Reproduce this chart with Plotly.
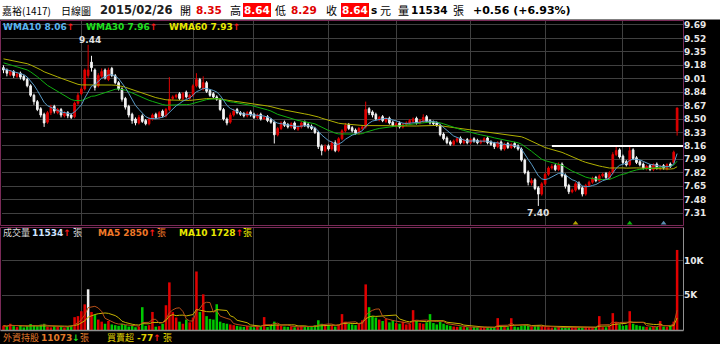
import numpy as np
import plotly.graph_objects as go

# ---------------- data ----------------
prior_closes = [9.60, 9.65, 9.62, 9.66, 9.60, 9.55, 9.57, 9.52, 9.50, 9.54,
                9.50, 9.46, 9.48, 9.44, 9.42, 9.45, 9.40, 9.37, 9.38, 9.34,
                9.35, 9.31, 9.33, 9.28, 9.30, 9.25, 9.27, 9.22, 9.24, 9.20,
                9.22, 9.18, 9.20, 9.16, 9.18, 9.14, 9.16, 9.12, 9.14, 9.10]

opens = [9.15, 9.12, 9.06, 9.10, 9.04, 9.08, 9.04, 9.00, 8.92, 8.80,
         8.72, 8.63, 8.56, 8.46, 8.58, 8.66, 8.58, 8.62, 8.54, 8.58,
         8.55, 8.53, 8.70, 8.82, 8.88, 9.05, 9.22, 9.12, 8.92, 9.04,
         9.12, 9.00, 9.14, 9.05, 8.96, 8.88, 8.76, 8.66, 8.56, 8.50,
         8.45, 8.54, 8.48, 8.44, 8.50, 8.56, 8.52, 8.60, 8.54, 8.62,
         8.76, 8.78, 8.82, 8.76, 8.84, 8.76, 8.80, 8.92, 9.00, 8.88,
         8.96, 8.86, 8.82, 8.78, 8.75, 8.62, 8.50, 8.46, 8.55, 8.62,
         8.58, 8.57, 8.54, 8.59, 8.56, 8.52, 8.56, 8.50, 8.53, 8.49,
         8.46, 8.30, 8.38, 8.46, 8.43, 8.40, 8.45, 8.37, 8.40, 8.46,
         8.43, 8.41, 8.38, 8.33, 8.16, 8.10, 8.16, 8.12, 8.20, 8.10,
         8.25, 8.35, 8.43, 8.39, 8.36, 8.32, 8.38, 8.40, 8.63, 8.59,
         8.56, 8.49, 8.53, 8.47, 8.51, 8.46, 8.41, 8.45, 8.40, 8.43,
         8.45, 8.47, 8.51, 8.45, 8.47, 8.53, 8.48, 8.46, 8.45, 8.42,
         8.31, 8.26, 8.21, 8.18, 8.22, 8.26, 8.20, 8.24, 8.20, 8.25,
         8.23, 8.20, 8.22, 8.26, 8.21, 8.19, 8.15, 8.21, 8.12, 8.19,
         8.14, 8.19, 8.16, 8.12, 7.98, 7.83, 7.69, 7.73, 7.63, 7.55,
         7.68, 7.80, 7.88, 7.91, 7.86, 7.93, 7.79, 7.66, 7.58, 7.60,
         7.69, 7.63, 7.55, 7.66, 7.70, 7.76, 7.72, 7.78, 7.81, 7.75,
         7.82, 8.05, 8.11, 8.03, 7.96, 7.92, 8.11, 8.01, 7.96, 7.93,
         7.87, 7.91, 7.86, 7.93, 7.87, 7.91, 7.87, 7.93, 7.95, 8.35]

highs = [9.18, 9.14, 9.12, 9.12, 9.09, 9.10, 9.06, 9.02, 8.94, 8.82,
         8.74, 8.65, 8.58, 8.60, 8.68, 8.68, 8.64, 8.64, 8.60, 8.60,
         8.57, 8.72, 8.83, 8.90, 9.14, 9.44, 9.30, 9.14, 9.08, 9.14,
         9.14, 9.15, 9.16, 9.07, 8.98, 8.90, 8.78, 8.68, 8.58, 8.52,
         8.55, 8.56, 8.50, 8.52, 8.57, 8.58, 8.60, 8.62, 8.64, 9.03,
         8.80, 8.82, 8.84, 8.84, 8.86, 8.82, 8.94, 9.08, 9.02, 9.04,
         8.98, 8.88, 8.84, 8.80, 8.76, 8.64, 8.52, 8.58, 8.63, 8.64,
         8.60, 8.59, 8.60, 8.61, 8.58, 8.57, 8.58, 8.54, 8.55, 8.51,
         8.48, 8.40, 8.47, 8.48, 8.45, 8.46, 8.47, 8.42, 8.47, 8.48,
         8.45, 8.43, 8.40, 8.35, 8.18, 8.18, 8.18, 8.22, 8.23, 8.27,
         8.37, 8.45, 8.45, 8.41, 8.38, 8.40, 8.42, 8.72, 8.65, 8.61,
         8.58, 8.54, 8.55, 8.52, 8.53, 8.48, 8.46, 8.47, 8.45, 8.47,
         8.50, 8.52, 8.53, 8.50, 8.56, 8.55, 8.50, 8.48, 8.47, 8.44,
         8.33, 8.28, 8.23, 8.24, 8.27, 8.28, 8.25, 8.26, 8.26, 8.27,
         8.25, 8.24, 8.27, 8.28, 8.23, 8.21, 8.22, 8.23, 8.20, 8.21,
         8.20, 8.21, 8.18, 8.14, 8.00, 7.85, 7.75, 7.75, 7.65, 7.70,
         7.82, 7.90, 7.93, 7.93, 7.95, 7.95, 7.81, 7.68, 7.62, 7.70,
         7.71, 7.65, 7.68, 7.72, 7.77, 7.78, 7.80, 7.82, 7.83, 7.84,
         8.08, 8.16, 8.13, 8.05, 7.98, 8.15, 8.13, 8.03, 7.98, 7.95,
         7.92, 7.93, 7.94, 7.95, 7.92, 7.93, 7.94, 7.95, 8.10, 8.64]

lows = [9.08, 9.04, 9.04, 9.02, 9.02, 9.00, 8.98, 8.90, 8.78, 8.68,
        8.60, 8.52, 8.40, 8.44, 8.55, 8.57, 8.56, 8.52, 8.52, 8.51,
        8.50, 8.51, 8.68, 8.80, 8.86, 9.02, 9.10, 8.86, 8.90, 9.02,
        9.00, 8.98, 9.03, 8.94, 8.86, 8.72, 8.62, 8.52, 8.44, 8.42,
        8.43, 8.45, 8.42, 8.42, 8.48, 8.50, 8.50, 8.52, 8.52, 8.60,
        8.74, 8.76, 8.74, 8.74, 8.76, 8.74, 8.78, 8.90, 8.88, 8.86,
        8.83, 8.78, 8.76, 8.73, 8.60, 8.48, 8.42, 8.44, 8.53, 8.56,
        8.54, 8.52, 8.52, 8.53, 8.50, 8.50, 8.48, 8.49, 8.46, 8.44,
        8.19, 8.28, 8.36, 8.40, 8.38, 8.38, 8.36, 8.35, 8.38, 8.40,
        8.38, 8.36, 8.31, 8.12, 8.04, 8.08, 8.10, 8.10, 8.08, 8.08,
        8.23, 8.33, 8.36, 8.33, 8.30, 8.30, 8.36, 8.38, 8.55, 8.52,
        8.48, 8.47, 8.46, 8.45, 8.43, 8.40, 8.39, 8.38, 8.38, 8.41,
        8.43, 8.45, 8.43, 8.43, 8.45, 8.45, 8.43, 8.42, 8.40, 8.28,
        8.23, 8.18, 8.16, 8.16, 8.20, 8.18, 8.18, 8.18, 8.18, 8.20,
        8.18, 8.18, 8.20, 8.18, 8.16, 8.12, 8.13, 8.10, 8.10, 8.12,
        8.12, 8.13, 8.10, 7.96, 7.80, 7.66, 7.66, 7.60, 7.40, 7.53,
        7.66, 7.78, 7.86, 7.84, 7.84, 7.76, 7.62, 7.55, 7.56, 7.58,
        7.60, 7.52, 7.53, 7.64, 7.68, 7.70, 7.70, 7.76, 7.74, 7.73,
        7.80, 8.03, 8.00, 7.93, 7.90, 7.90, 7.98, 7.93, 7.90, 7.86,
        7.85, 7.84, 7.84, 7.86, 7.85, 7.86, 7.85, 7.88, 7.94, 8.29]

closes = [9.12, 9.08, 9.10, 9.05, 9.07, 9.03, 9.00, 8.92, 8.80, 8.72,
          8.62, 8.55, 8.45, 8.58, 8.65, 8.60, 8.62, 8.55, 8.57, 8.54,
          8.52, 8.70, 8.80, 8.88, 9.12, 9.12, 9.15, 8.90, 9.05, 9.10,
          9.02, 9.12, 9.05, 8.96, 8.88, 8.75, 8.65, 8.55, 8.48, 8.45,
          8.52, 8.47, 8.44, 8.50, 8.55, 8.52, 8.58, 8.54, 8.62, 8.75,
          8.78, 8.80, 8.76, 8.82, 8.78, 8.80, 8.92, 9.00, 8.90, 8.96,
          8.85, 8.80, 8.78, 8.75, 8.62, 8.50, 8.45, 8.55, 8.60, 8.58,
          8.56, 8.54, 8.58, 8.55, 8.52, 8.55, 8.50, 8.52, 8.48, 8.46,
          8.30, 8.38, 8.45, 8.42, 8.40, 8.44, 8.38, 8.40, 8.45, 8.42,
          8.40, 8.38, 8.33, 8.15, 8.10, 8.15, 8.12, 8.20, 8.10, 8.25,
          8.35, 8.42, 8.38, 8.35, 8.32, 8.38, 8.40, 8.62, 8.58, 8.55,
          8.50, 8.52, 8.48, 8.50, 8.45, 8.42, 8.44, 8.40, 8.43, 8.45,
          8.48, 8.50, 8.45, 8.48, 8.52, 8.47, 8.45, 8.44, 8.42, 8.30,
          8.25, 8.20, 8.18, 8.22, 8.25, 8.20, 8.23, 8.20, 8.24, 8.22,
          8.20, 8.22, 8.25, 8.20, 8.18, 8.15, 8.20, 8.12, 8.18, 8.14,
          8.18, 8.15, 8.12, 7.98, 7.82, 7.70, 7.72, 7.62, 7.55, 7.68,
          7.80, 7.88, 7.90, 7.86, 7.92, 7.78, 7.65, 7.58, 7.60, 7.68,
          7.62, 7.55, 7.66, 7.70, 7.75, 7.72, 7.78, 7.80, 7.76, 7.82,
          8.05, 8.10, 8.02, 7.95, 7.92, 8.10, 8.00, 7.95, 7.92, 7.88,
          7.90, 7.86, 7.92, 7.88, 7.90, 7.88, 7.92, 7.90, 8.08, 8.64]

volumes = [620, 480, 900, 560, 420, 700, 380, 520, 860, 640,
           540, 780, 900, 460, 380, 520, 440, 600, 350, 480,
           560, 1850, 2000, 2700, 3700, 5860, 2600, 2200, 1500, 1200,
           900, 1300, 800, 700, 600, 900, 750, 500, 650, 400,
           520, 3290, 600, 700, 2600, 480, 560, 900, 3570, 6860,
           2570, 1800, 1200, 900, 1500, 1100, 1800, 8430, 2600, 5140,
           2000, 1600, 1500, 3710, 1200, 1000, 900, 800, 700, 600,
           500, 450, 600, 520, 400, 480, 500, 1860, 420, 600,
           1200, 800, 600, 500, 450, 520, 400, 380, 600, 500,
           450, 480, 700, 1400, 900, 600, 700, 650, 500, 800,
           2290, 1200, 900, 800, 700, 900, 1400, 6570, 3290, 2000,
           1800, 1500, 1300, 1600, 1100, 1400, 1000, 900, 1200, 800,
           900, 2860, 1300, 1000, 900, 1100, 2290, 1000, 800, 1200,
           900, 700, 600, 500, 450, 500, 420, 400, 380, 450,
           400, 350, 380, 420, 360, 400, 1710, 500, 450, 400,
           1700, 500, 400, 600, 700, 650, 500, 600, 700, 550,
           450, 400, 350, 380, 420, 350, 400, 380, 360, 400,
           350, 380, 420, 400, 380, 450, 2000, 420, 400, 600,
           2430, 1200, 800, 600, 700, 2710, 900, 700, 600, 500,
           450, 400, 500, 450, 1300, 500, 450, 600, 1200, 11534]

grid_idx = [23, 56, 74, 96, 116, 138, 160, 183]
price_ticks = [7.31, 7.48, 7.65, 7.82, 7.99, 8.16, 8.33, 8.50, 8.67,
               8.84, 9.01, 9.18, 9.35, 9.52, 9.69]
vol_ticks = [5000, 10000]
vol_tick_labels = ["5K", "10K"]
resist_level = 8.16
resist_start = 162
event_idx = [169, 185, 195]
event_names = ["a", "b", "c"]

header_name = "嘉裕(1417)"
header_kind = "日線圖"
header_date = "2015/02/26"
hdr_open, hdr_high, hdr_low, hdr_close = "8.35", "8.64", "8.29", "8.64"
hdr_vol = "11534"
hdr_change = "+0.56 (+6.93%)"
wma_labels = [("WMA10", "8.06"), ("WMA30", "7.96"), ("WMA60", "7.93")]
vol_label = ("成交量", "11534")
vma_labels = [("MA5", "2850"), ("MA10", "1728")]
foreign_hold = "11073"
net_buy = "-77"

# ---------------- derived ----------------
N = len(closes)
idx = list(range(N))
ext = np.array(prior_closes + closes, dtype=float)


def wma(arr, n):
    out = []
    for k in range(len(arr)):
        w_arr = arr[max(0, k - n + 1):k + 1]
        w = np.arange(1, len(w_arr) + 1)
        out.append(float(np.dot(w_arr, w) / w.sum()))
    return out[len(prior_closes):]


def sma(arr, n):
    arr = np.array(arr, dtype=float)
    return [float(arr[max(0, k - n + 1):k + 1].mean()) for k in range(len(arr))]


wma10, wma30, wma60 = wma(ext, 10), wma(ext, 30), wma(ext, 60)
vma5, vma10 = sma(volumes, 5), sma(volumes, 10)

prev = [prior_closes[-1]] + closes[:-1]
vol_colors = ["#e00000" if c > p else ("#00c800" if c < p else "#f0f0f0")
              for c, p in zip(closes, prev)]

# ---------------- geometry helpers ----------------
L, R, T, B = 2, 37, 20, 14
W, H = 720, 344
PW, PH = W - L - R, H - T - B


def px2x(px):
    return (px - L) / PW


def py2y(py):
    return (H - B - py) / PH


pitch = 3.385
xlo = -1.5 / pitch
xhi = xlo + PW / pitch

price_rng = [7.146, 9.753]
vol_rng = [0, 14697]

GRID = "#404040"
MAROON = "#7a2a58"

fig = go.Figure()

fig.add_trace(go.Candlestick(
    x=idx, open=opens, high=highs, low=lows, close=closes,
    xaxis="x", yaxis="y",
    increasing=dict(line=dict(color="#e00000", width=1), fillcolor="#e00000"),
    decreasing=dict(line=dict(color="#f4f4f4", width=1), fillcolor="#f4f4f4"),
    whiskerwidth=0, showlegend=False, hoverinfo="skip"))

for vals, col in [(wma60, "#b0b000"), (wma30, "#10b010"), (wma10, "#5a9cc8")]:
    fig.add_trace(go.Scatter(x=idx, y=vals, mode="lines", xaxis="x", yaxis="y",
                             line=dict(color=col, width=1), showlegend=False,
                             hoverinfo="skip"))

fig.add_trace(go.Scatter(
    x=event_idx, y=[7.18] * len(event_idx), mode="markers", xaxis="x", yaxis="y",
    marker=dict(symbol="triangle-up", size=5, color=["#b0a000", "#10b010", "#5a8cb0"]),
    showlegend=False, hoverinfo="skip", text=event_names))

fig.add_trace(go.Bar(x=idx, y=volumes, marker=dict(color=vol_colors, line=dict(width=0)),
                     xaxis="x2", yaxis="y2", showlegend=False, hoverinfo="skip"))
fig.add_trace(go.Scatter(x=idx, y=vma10, mode="lines", xaxis="x2", yaxis="y2",
                         line=dict(color="#c8b400", width=1), showlegend=False,
                         hoverinfo="skip"))
fig.add_trace(go.Scatter(x=idx, y=vma5, mode="lines", xaxis="x2", yaxis="y2",
                         line=dict(color="#b85018", width=1), showlegend=False,
                         hoverinfo="skip"))

price_dom = [py2y(226), py2y(20)]
vol_dom = [0, py2y(228)]

tickfont = dict(family="DejaVu Sans", size=9, color="#e8e8e8", weight="bold")

fig.update_layout(
    width=W, height=H, margin=dict(l=L, r=R, t=T, b=B),
    paper_bgcolor="#000000", plot_bgcolor="#000000",
    bargap=0.25, showlegend=False,
    xaxis=dict(domain=[0, 1], range=[xlo, xhi], anchor="y", tickvals=grid_idx,
               showticklabels=False, showgrid=True, gridcolor=GRID, gridwidth=1,
               zeroline=False, showline=False, ticks="",
               rangeslider=dict(visible=False)),
    xaxis2=dict(domain=[0, 1], range=[xlo, xhi], anchor="y2", matches="x",
                tickvals=grid_idx, showticklabels=False, showgrid=True,
                gridcolor=GRID, gridwidth=1, zeroline=False, showline=False,
                ticks=""),
    yaxis=dict(domain=price_dom, range=price_rng, side="right", anchor="x",
               tickvals=price_ticks, ticktext=[f"{v:.2f}" for v in price_ticks],
               tickfont=tickfont, showgrid=True, gridcolor=GRID, gridwidth=1,
               zeroline=False, showline=False, ticks=""),
    yaxis2=dict(domain=vol_dom, range=vol_rng, side="right", anchor="x2",
                tickvals=vol_ticks, ticktext=vol_tick_labels,
                tickfont=tickfont, showgrid=True, gridcolor=GRID, gridwidth=1,
                zeroline=False, showline=False, ticks=""),
)

shapes = [
    dict(type="rect", xref="paper", yref="paper", x0=px2x(0), x1=px2x(720),
         y0=py2y(19.5), y1=py2y(0), fillcolor="#ffffff", line=dict(width=0),
         layer="below"),
    dict(type="rect", xref="paper", yref="paper", x0=px2x(0.5), x1=px2x(683.5),
         y0=py2y(225.5), y1=py2y(20.5), line=dict(color=MAROON, width=1)),
    dict(type="line", xref="paper", yref="paper", x0=px2x(0.5), x1=px2x(683.5),
         y0=py2y(227.5), y1=py2y(227.5), line=dict(color=MAROON, width=1)),
    dict(type="line", xref="paper", yref="paper", x0=px2x(0.5), x1=px2x(0.5),
         y0=py2y(330.5), y1=py2y(227.5), line=dict(color=MAROON, width=1)),
    dict(type="line", xref="paper", yref="paper", x0=px2x(0.5), x1=px2x(683.5),
         y0=py2y(330.5), y1=py2y(330.5), line=dict(color="#909090", width=1.5)),
    dict(type="line", xref="paper", yref="paper", x0=px2x(683.5), x1=px2x(683.5),
         y0=py2y(330.5), y1=py2y(227.5), line=dict(color="#909090", width=1)),
    dict(type="line", xref="x", yref="y", x0=resist_start, x1=xhi,
         y0=resist_level, y1=resist_level, line=dict(color="#ffffff", width=2)),
]
fig.update_layout(shapes=shapes)

CJK = "Noto Sans CJK TC"
LAT = "DejaVu Sans, Noto Sans CJK TC"
RED = "#ff1a1a"


def ann(px, py, text, color, size, family=LAT, bg=None, pad=0):
    return dict(x=px2x(px), y=py2y(py), xref="paper", yref="paper",
                xanchor="left", yanchor="middle", text=text, showarrow=False,
                font=dict(family=family, size=size, color=color),
                bgcolor=bg, borderpad=pad, borderwidth=0)


arrow_up = f"<span style='color:{RED}'><b>↑</b></span>"
arrow_dn = "<span style='color:#20e020'><b>↓</b></span>"

anns = [
    ann(2, 10, header_name, "#000000", 10, CJK),
    ann(61, 10, header_kind, "#000000", 10, CJK),
    ann(100, 10, f"<b>{header_date}</b>", "#202020", 11.5),
    ann(180, 10, "開", "#000000", 11, CJK),
    ann(196, 10, f"<b>{hdr_open}</b>", "#e00000", 10.5),
    ann(230, 10, "高", "#000000", 11, CJK),
    ann(243, 10.5, f"<b>{hdr_high}</b>", "#ffffff", 10.5, bg="#ff0000", pad=1),
    ann(275, 10, "低", "#000000", 11, CJK),
    ann(291, 10, f"<b>{hdr_low}</b>", "#e00000", 10.5),
    ann(326, 10, "收", "#000000", 11, CJK),
    ann(341, 10.5, f"<b>{hdr_close}</b>", "#ffffff", 10.5, bg="#ff0000", pad=1),
    ann(371, 10, "<b>s</b>", "#000000", 10.5),
    ann(380, 10, "元", "#000000", 11, CJK),
    ann(398, 10, "量", "#000000", 11, CJK),
    ann(411, 10, f"<b>{hdr_vol}</b>", "#000000", 10.5),
    ann(453, 10, "張", "#000000", 11, CJK),
    ann(473, 10, f"<b>{hdr_change}</b>", "#000000", 11),
]

wma_cols = ["#5ab4f0", "#20e020", "#e8e800"]
wma_px = [3, 86, 169]
for (nm, v), col, px in zip(wma_labels, wma_cols, wma_px):
    anns.append(ann(px, 26.5, f"<b>{nm} {v}</b>{arrow_up}", col, 9))

anns += [
    ann(3, 233, vol_label[0], "#d8d8d8", 9, CJK),
    ann(32, 233, f"<b>{vol_label[1]}</b>{arrow_up}", "#d0e4ff", 9),
    ann(73, 233, "張", "#d8d8d8", 9, CJK),
    ann(98, 233, f"<b>{vma_labels[0][0]} {vma_labels[0][1]}</b>{arrow_up}", "#f07828", 9),
    ann(157, 233, "張", "#f07828", 9, CJK),
    ann(179, 233, f"<b>{vma_labels[1][0]} {vma_labels[1][1]}</b>{arrow_up}", "#e8e800", 9),
    ann(243, 233, "張", "#e8e800", 9, CJK),
    ann(3, 337.5, "外資持股", "#e07a2a", 9, CJK),
    ann(41, 337.5, f"<b>{foreign_hold}</b>{arrow_dn}", "#e07a2a", 9),
    ann(80, 337.5, "張", "#e07a2a", 9, CJK),
    ann(107, 337.5, "買賣超", "#e0d000", 9, CJK),
    ann(137, 337.5, f"<b>{net_buy}</b>{arrow_up}", "#e0d000", 9),
    ann(163, 337.5, "張", "#e0d000", 9, CJK),
]

hi_i = int(np.argmax(highs))
lo_i = int(np.argmin(lows))
anns.append(dict(x=hi_i, y=highs[hi_i], xref="x", yref="y", text=f"<b>{highs[hi_i]:.2f}</b>",
                 showarrow=False, yanchor="bottom", xanchor="center", yshift=-2, xshift=1.5,
                 font=dict(family="DejaVu Sans", size=9, color="#e0e0e0")))
anns.append(dict(x=lo_i, y=lows[lo_i], xref="x", yref="y", text=f"<b>{lows[lo_i]:.2f}</b>",
                 showarrow=False, yanchor="top", xanchor="center", yshift=0,
                 font=dict(family="DejaVu Sans", size=9, color="#e0e0e0")))

fig.update_layout(annotations=anns)

fig.write_html("out.html")
